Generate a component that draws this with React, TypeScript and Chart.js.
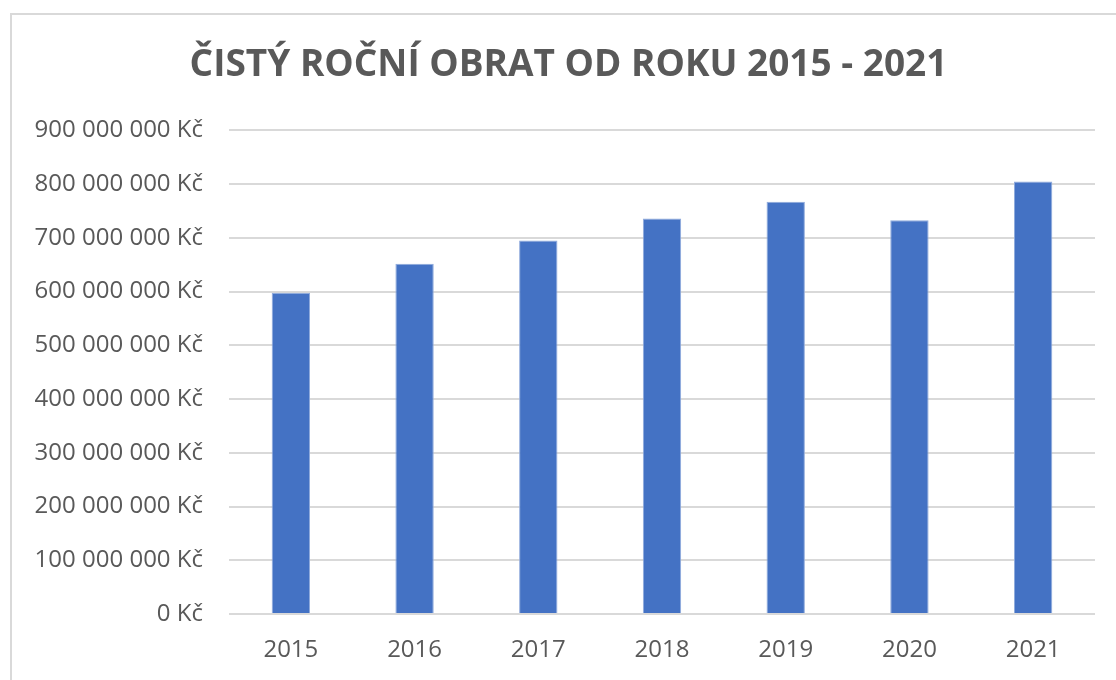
import React, { useEffect, useRef } from "react";
import { Chart, registerables } from "chart.js";

Chart.register(...registerables);

const years = ["2015", "2016", "2017", "2018", "2019", "2020", "2021"];
const revenue = [598e6, 652e6, 695e6, 736e6, 767e6, 733e6, 805e6];
const yTickMax = 900e6;
const yTickStep = 100e6;
const titleText = "ČISTÝ ROČNÍ OBRAT OD ROKU 2015 - 2021";

function formatKc(v: number): string {
  const s = Math.round(v).toString().replace(/\B(?=(\d{3})+(?!\d))/g, " ");
  return s + " Kč";
}

const titleShift = {
  id: "titleShift",
  afterLayout(chart: any) {
    const t = chart.titleBlock;
    if (t) {
      t.left = 42;
      t.right = chart.chartArea.right;
    }
  },
};

export default function App() {
  const ref = useRef<HTMLCanvasElement | null>(null);

  useEffect(() => {
    if (!ref.current) return;
    const chart = new Chart(ref.current, {
      type: "bar",
      data: {
        labels: years,
        datasets: [
          {
            label: "Obrat",
            data: revenue,
            backgroundColor: "#4472C4",
            borderColor: "#8FAADC",
            borderWidth: 1,
            categoryPercentage: 1,
            barPercentage: 0.31,
          },
        ],
      },
      plugins: [titleShift],
      options: {
        responsive: false,
        animation: false,
        layout: { padding: { left: 0, right: 21, top: 0, bottom: 0 } },
        plugins: {
          legend: { display: false },
          tooltip: { enabled: false },
          title: {
            display: true,
            text: titleText,
            color: "#595959",
            font: { family: "'Open Sans'", size: 37, weight: "bold", lineHeight: 1.2 },
            padding: { top: 43, bottom: 43 },
          },
        },
        scales: {
          x: {
            grid: { display: false, drawTicks: false },
            border: { display: false },
            ticks: {
              color: "#595959",
              font: { family: "'Open Sans'", size: 24 },
              padding: 22,
            },
            afterFit: (scale: any) => {
              scale.height = 66;
            },
          },
          y: {
            min: 0,
            max: yTickMax,
            grid: { color: "#d9d9d9", lineWidth: 2, drawTicks: false },
            border: { display: false },
            ticks: {
              stepSize: yTickStep,
              color: "#595959",
              font: { family: "'Open Sans'", size: 24 },
              padding: 26,
              callback: (v: any) => formatKc(Number(v)),
            },
            afterFit: (scale: any) => {
              scale.width = 229;
            },
          },
        },
      },
    });
    return () => chart.destroy();
  }, []);

  return (
    <div style={{ position: "fixed", left: 0, top: 0, width: 1116, height: 680, background: "#fff" }}>
      <canvas ref={ref} width={1116} height={680} style={{ position: "absolute", left: 0, top: 0 }} />
      <div style={{ position: "absolute", left: 10, top: 13, width: 2, height: 667, background: "#d9d9d9" }} />
      <div style={{ position: "absolute", left: 10, top: 13, width: 1106, height: 2, background: "#d9d9d9" }} />
    </div>
  );
}
